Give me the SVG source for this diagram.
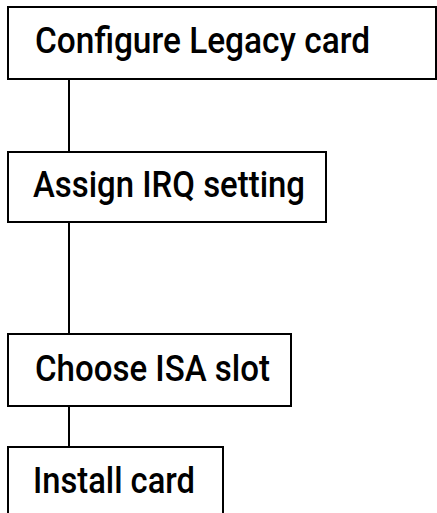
<svg xmlns="http://www.w3.org/2000/svg" width="437" height="513" viewBox="0 0 437 513">
<style>
.box{fill:#fff;stroke:#000;stroke-width:2}
.lbl{font-family:Roboto,"Liberation Sans",sans-serif;font-weight:500;font-size:36px;fill:#000}
.conn{stroke:#000;stroke-width:2;fill:none}
</style>
<rect width="437" height="513" fill="#fff"/>
<g id="connectors">
<line class="conn" x1="69" y1="79" x2="69" y2="152"/>
<line class="conn" x1="69" y1="222" x2="69" y2="334"/>
<line class="conn" x1="69" y1="406" x2="69" y2="447"/>
</g>
<g id="node1">
<rect class="box" x="8" y="7" width="428" height="72"/>
<text class="lbl" x="35" y="53" textLength="335" lengthAdjust="spacingAndGlyphs">Configure Legacy card</text>
</g>
<g id="node2">
<rect class="box" x="8" y="152" width="318" height="70"/>
<text class="lbl" x="33" y="197" textLength="272" lengthAdjust="spacingAndGlyphs">Assign IRQ setting</text>
</g>
<g id="node3">
<rect class="box" x="8" y="334" width="283" height="72"/>
<text class="lbl" x="35" y="381" textLength="235" lengthAdjust="spacingAndGlyphs">Choose ISA slot</text>
</g>
<g id="node4">
<rect class="box" x="8" y="447" width="215" height="80"/>
<text class="lbl" x="33" y="493" textLength="162" lengthAdjust="spacingAndGlyphs">Install card</text>
</g>
</svg>
